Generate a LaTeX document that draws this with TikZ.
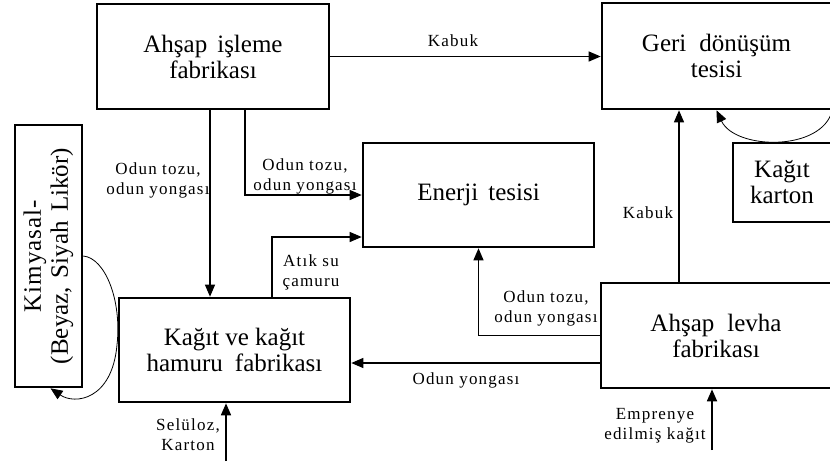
\documentclass[tikz,border=0pt]{standalone}
\usepackage{fontspec}
\setmainfont{Liberation Serif}
\newfontfamily\lblfont[LetterSpace=7]{Liberation Serif}
\newfontfamily\widefont[LetterSpace=4]{Liberation Serif}
\usetikzlibrary{arrows.meta,calc}

\begin{document}
\begin{tikzpicture}[x=1pt,y=-1pt,
  box/.style={draw, line width=2.6pt, align=center, inner sep=0pt,
    font=\fontsize{25}{26}\selectfont},
  lbl/.style={align=center, inner sep=0pt, font=\lblfont\fontsize{17}{20}\selectfont},
  flow/.style={line width=1.2pt, -{Triangle[length=12pt,width=10pt]}},
  inflow/.style={line width=1.7pt, -{Triangle[length=12pt,width=10pt]}},
  loopline/.style={line width=0.8pt, -{Triangle[length=12pt,width=10pt]}},
]
\useasboundingbox (0,0) rectangle (830,461);
\clip (0,0) rectangle (830,461);
\fill[white] (0,0) rectangle (830,461);

% plants and facilities
\node[box, minimum width=232pt, minimum height=105pt] (isleme) at (213,56.5)
  {Ahşap\hspace{10pt}işleme\\fabrikası};
\node[box, minimum width=229pt, minimum height=106pt] (geri) at (716.5,56)
  {Geri\hspace{13pt}dönüşüm\\tesisi};
\node[box, minimum width=231pt, minimum height=104pt] (enerji) at (478.5,195)
  {Enerji\hspace{10pt}tesisi};
\node[box, minimum width=98pt, minimum height=79pt] (karton) at (782,182.5)
  {Kağıt\\karton};
\node[box, minimum width=231pt, minimum height=104pt] (kagit) at (234.5,350)
  {Kağıt\hspace{6pt}ve kağıt\\hamuru\hspace{12pt}fabrikası};
\node[box, minimum width=230pt, minimum height=105pt] (levha) at (716,335.5)
  {Ahşap\hspace{13pt}levha\\fabrikası};
\node[box, rotate=90, minimum width=262pt, minimum height=67pt,
  font=\fontsize{25}{27}\selectfont] (kim) at (48.5,256)
  {{\widefont Kimyasal-}\\(Beyaz,\hspace{9pt}Siyah\hspace{3pt} Likör)};

% material flows
\draw[flow] (isleme.east) -- (isleme.east -| geri.west);
\coordinate (a1) at ([xshift=-3pt]isleme.south);
\draw[flow] (a1) -- (a1 |- kagit.north);
\coordinate (a2) at ([xshift=32pt]isleme.south);
\draw[flow] (a2) |- (enerji.west);
\coordinate (a3) at ([xshift=37.5pt]kagit.north);
\coordinate (a3e) at ([yshift=-42pt]enerji.west);
\draw[flow] (a3) |- (a3e);
\draw[flow] (levha.west) -| (enerji.south);
\coordinate (a5) at ([yshift=-27.5pt]levha.west);
\draw[flow] (a5) -- (a5 -| kagit.east);
\coordinate (a6) at ([xshift=-37pt]levha.north);
\draw[flow] (a6) -- (a6 |- geri.south);
\coordinate (sel) at (226,461);
\draw[inflow] (sel) -- (sel |- kagit.south);
\coordinate (emp) at (712,450);
\draw[inflow] (emp) -- (emp |- levha.south);

% return loops
\draw[loopline] (kim.south) .. controls (105,258) and (122,300) .. (117,345)
  .. controls (112,400) and (75,405) .. ([xshift=2pt]kim.west);
\draw[loopline] (geri.south east) .. controls (822,152) and (735,150) .. (geri.south);

% flow labels
\node[lbl] (l1) at (453,41) {Kabuk};
\node[lbl] (l2) at (158,180) {Odun tozu,\\odun yongası};
\node[lbl] (l3) at (305,176) {Odun tozu,\\odun yongası};
\node[lbl] (l4) at (311,272) {Atık su\\çamuru};
\node[lbl] (l5) at (648,213) {Kabuk};
\node[lbl] (l6) at (546,308) {Odun tozu,\\odun yongası};
\node[lbl] (l7) at (466,380) {Odun yongası};
\node[lbl] (l8) at (188,435) {Selüloz,\\Karton};
\node[lbl] (l9) at (655,426) {Emprenye\\edilmiş kağıt};
\end{tikzpicture}
\end{document}
